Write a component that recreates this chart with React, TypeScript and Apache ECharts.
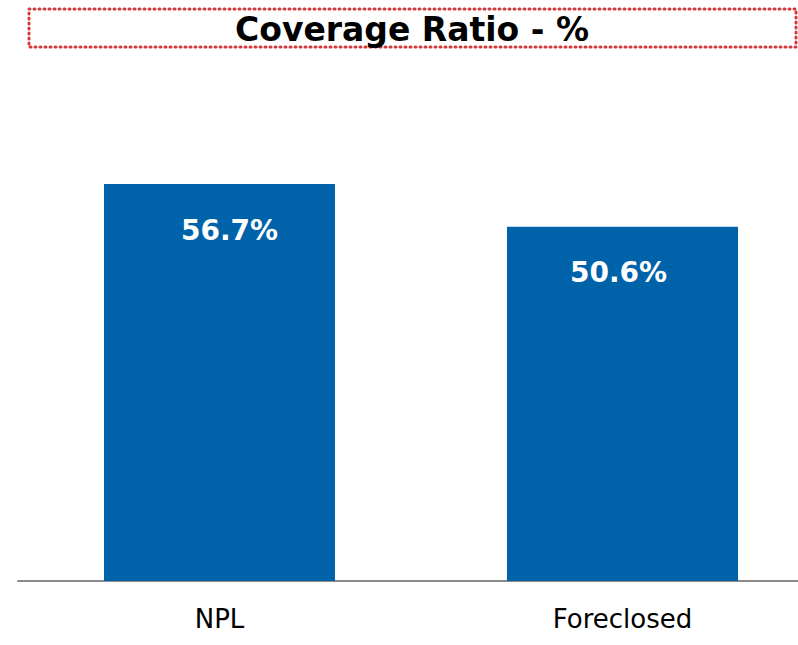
import React, { useEffect, useRef } from "react";
import * as echarts from "echarts";

const categories = ["NPL", "Foreclosed"];
const coverageValues = [56.7, 50.6];
const titleText = "Coverage Ratio - %";

// horizontal nudges of the in-bar value labels, as in the source layout
const LABEL_SHIFT_X = [10, -4];

export default function App() {
  const ref = useRef<HTMLDivElement>(null);
  useEffect(() => {
    if (!ref.current) return;
    const chart = echarts.init(ref.current, undefined, { renderer: "svg" });
    chart.setOption({
      animation: false,
      backgroundColor: "#ffffff",
      grid: { left: 18, width: 806, top: 161, height: 420, containLabel: false },
      xAxis: {
        type: "category",
        data: categories,
        axisLine: { show: true, lineStyle: { color: "#8a8a8a", width: 2 } },
        axisTick: { show: false },
        axisLabel: {
          color: "#000000",
          fontFamily: "DejaVu Sans",
          fontSize: 26,
          margin: 25,
        },
      },
      yAxis: {
        type: "value",
        min: 0,
        max: 60,
        show: false,
        splitLine: { show: false },
      },
      series: [
        {
          type: "bar",
          data: coverageValues.map((v, i) => ({
            value: v,
            label: { offset: [LABEL_SHIFT_X[i], 0] },
          })),
          barWidth: 231,
          itemStyle: { color: "#0062A8" },
          label: {
            show: true,
            position: "insideTop",
            distance: 32,
            color: "#ffffff",
            fontFamily: "DejaVu Sans",
            fontWeight: "bold",
            fontSize: 28,
            formatter: (p: any) => Number(p.value).toFixed(1) + "%",
          },
        },
      ],
      graphic: [
        {
          type: "rect",
          shape: { x: 29, y: 9, width: 767, height: 38 },
          style: {
            fill: "none",
            stroke: "#d03a3a",
            lineWidth: 3,
            lineDash: [1, 4],
            lineCap: "round",
          },
        },
        {
          type: "text",
          x: 412,
          y: 29,
          style: {
            text: titleText,
            fill: "#000000",
            fontFamily: "DejaVu Sans",
            fontWeight: "bold",
            fontSize: 33,
            align: "center",
            verticalAlign: "middle",
          },
        },
      ],
    });
    return () => chart.dispose();
  }, []);
  return (
    <div
      ref={ref}
      style={{ position: "fixed", left: 0, top: 0, width: 830, height: 645 }}
    />
  );
}
